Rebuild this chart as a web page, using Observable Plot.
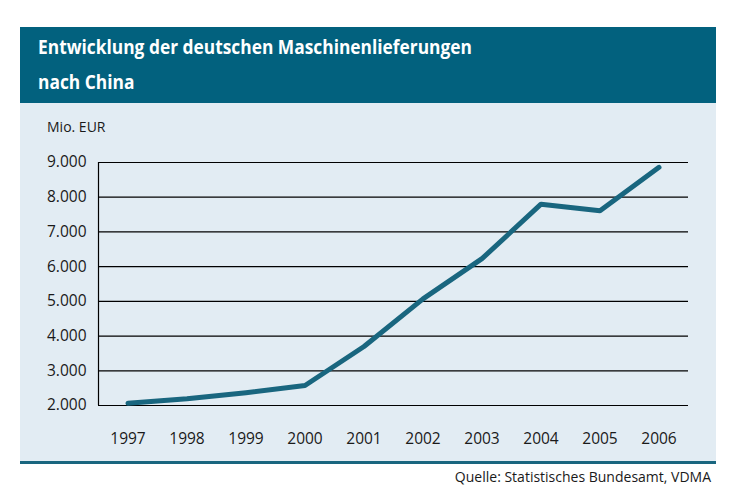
<!DOCTYPE html>
<html><head><meta charset="utf-8">
<script src="https://cdn.jsdelivr.net/npm/d3@7"></script>
<script src="https://cdn.jsdelivr.net/npm/@observablehq/plot@0.6"></script>
<style>
body{margin:0;background:#fff;font-family:"Open Sans",sans-serif;}
#wrap{position:relative;width:744px;height:500px;overflow:hidden;}
#header{position:absolute;left:20px;top:27px;width:696px;height:76px;background:#02617e;}
.t{position:absolute;left:18px;color:#fff;font-weight:700;font-size:19px;white-space:nowrap;transform-origin:0 50%;line-height:19px;}
#panel{position:absolute;left:20px;top:103px;width:696px;height:358px;background:#e2ecf3;}
#panel svg{position:absolute;left:0;top:0;}
#unit{position:absolute;left:27px;top:15px;font-size:14px;color:#1a1a1a;line-height:18px;}
#bar{position:absolute;left:20px;top:460.5px;width:696px;height:3px;background:#19667f;}
#src{position:absolute;right:33px;top:467px;font-size:14px;color:#1a1a1a;line-height:20px;}
</style></head>
<body>
<div id="wrap">
  <div id="header">
    <div class="t" id="t1" style="top:11px">Entwicklung der deutschen Maschinenlieferungen</div>
    <div class="t" id="t2" style="top:46px">nach China</div>
  </div>
  <div id="panel"><div id="unit">Mio. EUR</div></div>
  <div id="bar"></div>
  <div id="src">Quelle: Statistisches Bundesamt, VDMA</div>
</div>
<script>
const years = [1997, 1998, 1999, 2000, 2001, 2002, 2003, 2004, 2005, 2006];
const values = [2066, 2195, 2370, 2575, 3700, 5070, 6230, 7800, 7610, 8860];
const yTicks = [2000, 3000, 4000, 5000, 6000, 7000, 8000, 9000];

const de = d3.formatLocale({decimal: ",", thousands: ".", grouping: [3], currency: ["", " €"]});
const fmt = de.format(",");
const data = years.map((year, i) => ({year, value: values[i]}));

const chart = Plot.plot({
  width: 696, height: 358,
  marginLeft: 78, marginRight: 28, marginTop: 59, marginBottom: 56,
  style: {background: "transparent", fontFamily: "Open Sans", fontSize: "15.5px", color: "#1a1a1a"},
  x: {domain: [1996.5, 2006.5], ticks: years, tickFormat: d => String(d), tickSize: 0, tickPadding: 27, label: null},
  y: {domain: [2000, 9000], ticks: yTicks, tickFormat: fmt, tickSize: 0, tickPadding: 12, label: null},
  marks: [
    Plot.ruleY(yTicks, {stroke: "#000", strokeWidth: 1.2}),
    Plot.ruleX([1996.5], {y1: 2000, y2: 9000, stroke: "#000", strokeWidth: 1.2}),
    Plot.line(data, {x: "year", y: "value", stroke: "#19667f", strokeWidth: 5, strokeLinecap: "round", strokeLinejoin: "round"})
  ]
});
document.getElementById("panel").appendChild(chart);

// fit title width to reference (condensed look)
const t1 = document.getElementById("t1"), t2 = document.getElementById("t2");
const s = 434 / t1.getBoundingClientRect().width;
t1.style.transform = `scaleX(${s})`;
t2.style.transform = `scaleX(${s})`;
</script>
</body></html>
